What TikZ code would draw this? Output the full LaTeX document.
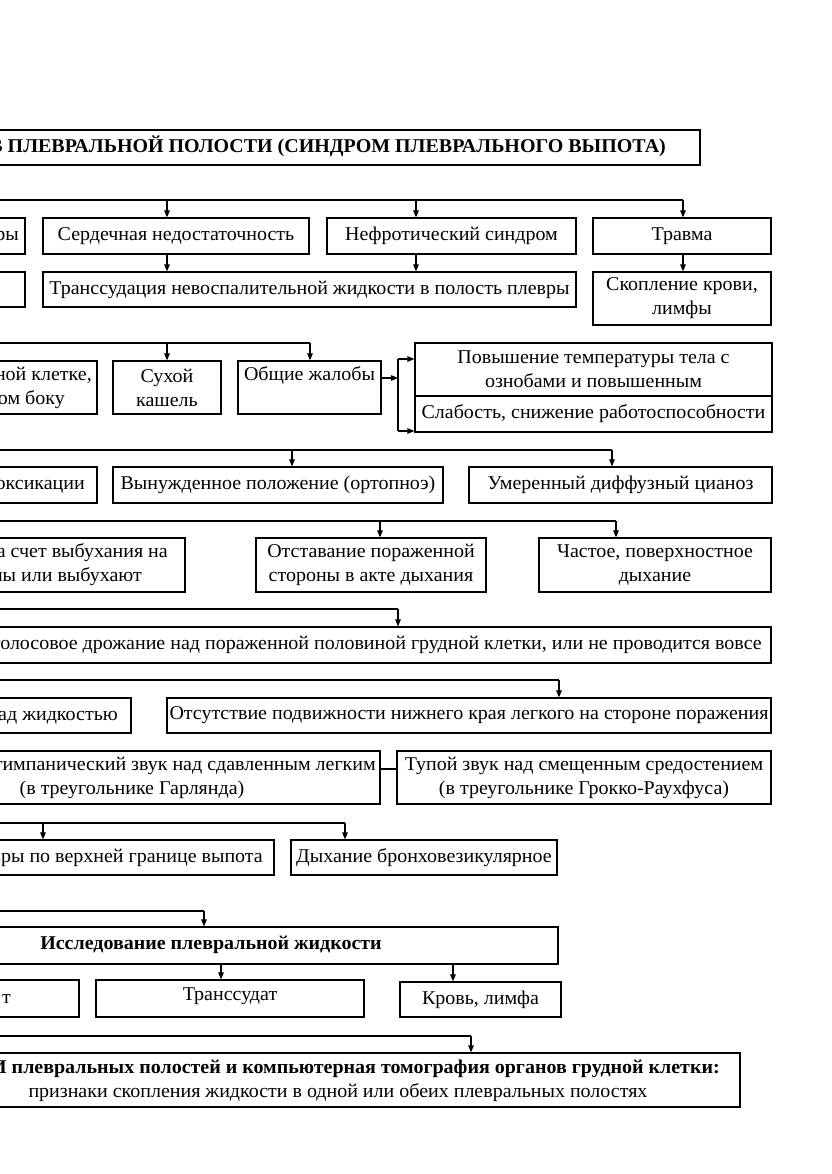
\documentclass[tikz,border=0pt]{standalone}
\usepackage{fontspec}
\setmainfont[FakeStretch=1.025]{Liberation Serif}
\usetikzlibrary{arrows.meta,fit}
\newcommand\fs{\fontsize{19.5}{24}\selectfont}
\tikzset{
  x=1pt, y=-1pt,
  box/.style={draw, line width=1.2pt, inner sep=0pt},
  txt/.style={inner sep=0pt, font=\fs, align=center},
  cut/.style={inner sep=0pt, font=\fs, anchor=base east},
  ln/.style={line width=1.2pt},
  arr/.style={line width=1.2pt, -{Triangle[length=7pt,width=5.5pt]}},
}
\begin{document}
\begin{tikzpicture}
\useasboundingbox (0,0) rectangle (831,1174);
\clip (0,0) rectangle (831,1174);
\fill[white] (0,0) rectangle (831,1174);

% title
\node[box, fit={(-60,130)(700,165)}] (title) {};
\node[cut, font=\fs\bfseries] (titlet) at (666,152.5) {В ПЛЕВРАЛЬНОЙ ПОЛОСТИ (СИНДРОМ ПЛЕВРАЛЬНОГО ВЫПОТА)};

% row 2
\node[box, fit={(-60,218)(25,254)}] (r2a) {};
\node[cut] (r2at) at (19,240.6) {ры};
\node[box, fit={(43,218)(309,254)}] (r2b) {};
\node[txt] (r2bt) at (r2b.center) {Сердечная недостаточность};
\node[box, fit={(327,218)(576,254)}] (r2c) {};
\node[txt] (r2ct) at (r2c.center) {Нефротический синдром};
\node[box, fit={(593,218)(771,254)}] (r2d) {};
\node[txt] (r2dt) at (r2d.center) {Травма};

% row 3
\node[box, fit={(-60,272)(25,307)}] (r3a) {};
\node[box, fit={(43,272)(576,307)}] (r3b) {};
\node[txt] (r3bt) at (r3b.center) {Транссудация невоспалительной жидкости в полость плевры};
\node[box, fit={(593,272)(771,325)}] (r3c) {};
\node[txt] (r3ct) at (r3c.center) {Скопление крови,\\лимфы};

% bus 1
\coordinate (s1) at (-20,200);
\coordinate (j1a) at (167,200);
\coordinate (j1b) at (416,200);
\coordinate (j1c) at (683,200);
\draw[ln] (s1) -- (j1c);
\draw[arr] (j1a) -- (j1a |- r2b.north);
\draw[arr] (j1b) -- (j1b |- r2c.north);
\draw[arr] (j1c) -- (j1c |- r2d.north);
\draw[arr] (j1a |- r2b.south) -- (j1a |- r3b.north);
\draw[arr] (j1b |- r2c.south) -- (j1b |- r3b.north);
\draw[arr] (j1c |- r2d.south) -- (j1c |- r3c.north);

% row 4
\node[box, fit={(-60,361)(97,414)}] (r4a) {};
\node[cut] (r4at1) at (92,380) {ной клетке,};
\node[cut] (r4at2) at (65,404) {ом боку};
\node[box, fit={(113,361)(221,414)}] (r4b) {};
\node[txt] (r4bt) at (r4b.center) {Сухой\\кашель};
\node[box, fit={(238,361)(381,414)}] (r4c) {};
\node[txt, anchor=base] (r4ct) at (309.5,380.5) {Общие жалобы};
\node[box, fit={(415,343)(772,396)}] (r4d) {};
\node[txt] (r4dt) at (r4d.center) {Повышение температуры тела с\\ознобами и повышенным};
\node[box, fit={(415,396)(772,432)}] (r4e) {};
\node[txt] (r4et) at (r4e.center) {Слабость, снижение работоспособности};

\coordinate (s2) at (-20,343);
\coordinate (j2a) at (167,343);
\coordinate (j2b) at (310,343);
\draw[ln] (s2) -- (j2b);
\draw[arr] (j2a) -- (j2a |- r4b.north);
\draw[arr] (j2b) -- (j2b |- r4c.north);

\coordinate (k1) at (398,378);
\coordinate (k2) at (398,359);
\coordinate (k3) at (398,431);
\draw[arr] (r4c.east |- k1) -- (k1);
\draw[ln] (k2) -- (k3);
\draw[arr] (k2) -- (k2 -| r4d.west);
\draw[arr] (k3) -- (k3 -| r4e.west);

% row 5
\node[box, fit={(-60,467)(97,503)}] (r5a) {};
\node[cut] (r5at) at (85,489.6) {оксикации};
\node[box, fit={(113,467)(443,503)}] (r5b) {};
\node[txt] (r5bt) at (r5b.center) {Вынужденное положение (ортопноэ)};
\node[box, fit={(469,467)(772,503)}] (r5c) {};
\node[txt] (r5ct) at (r5c.center) {Умеренный диффузный цианоз};

\coordinate (s3) at (-20,450);
\coordinate (j3a) at (292,450);
\coordinate (j3b) at (612,450);
\draw[ln] (s3) -- (j3b);
\draw[arr] (j3a) -- (j3a |- r5b.north);
\draw[arr] (j3b) -- (j3b |- r5c.north);

% row 6
\node[box, fit={(-60,538)(185,592)}] (r6a) {};
\node[cut] (r6at1) at (168,557.6) {а счет выбухания на};
\node[cut] (r6at2) at (142,581.6) {ны или выбухают};
\node[box, fit={(256,538)(486,592)}] (r6b) {};
\node[txt] (r6bt) at (r6b.center) {Отставание пораженной\\стороны в акте дыхания};
\node[box, fit={(539,538)(771,592)}] (r6c) {};
\node[txt] (r6ct) at (r6c.center) {Частое, поверхностное\\дыхание};

\coordinate (s4) at (-20,521);
\coordinate (j4a) at (380,521);
\coordinate (j4b) at (616,521);
\draw[ln] (s4) -- (j4b);
\draw[arr] (j4a) -- (j4a |- r6b.north);
\draw[arr] (j4b) -- (j4b |- r6c.north);

% row 7
\node[box, fit={(-60,627)(771,663)}] (r7) {};
\node[cut] (r7t) at (762,649.6) {голосовое дрожание над пораженной половиной грудной клетки, или не проводится вовсе};
\coordinate (s5) at (-20,609);
\coordinate (j5a) at (398,609);
\draw[ln] (s5) -- (j5a);
\draw[arr] (j5a) -- (j5a |- r7.north);

% row 8
\node[box, fit={(-60,698)(131,733)}] (r8a) {};
\node[cut] (r8at) at (118,720) {ад жидкостью};
\node[box, fit={(167,698)(771,733)}] (r8b) {};
\node[txt] (r8bt) at (r8b.center) {Отсутствие подвижности нижнего края легкого на стороне поражения};
\coordinate (s6) at (-20,680);
\coordinate (j6a) at (559,680);
\draw[ln] (s6) -- (j6a);
\draw[arr] (j6a) -- (j6a |- r8b.north);

% row 9
\node[box, fit={(-60,751)(380,804)}] (r9a) {};
\node[cut] (r9at1) at (376,770) {тимпанический звук над сдавленным легким};
\node[txt, anchor=base] (r9at2) at (132,794) {(в треугольнике Гарлянда)};
\node[box, fit={(397,751)(771,804)}] (r9b) {};
\node[txt] (r9bt) at (r9b.center) {Тупой звук над смещенным средостением\\(в треугольнике Грокко-Раухфуса)};
\coordinate (k9) at (389,769);
\draw[ln] (r9a.east |- k9) -- (r9b.west |- k9);

% row 10
\node[box, fit={(-60,840)(274,875)}] (r10a) {};
\node[cut] (r10at) at (263,862) {вры по верхней границе выпота};
\node[box, fit={(291,840)(557,875)}] (r10b) {};
\node[txt] (r10bt) at (r10b.center) {Дыхание бронховезикулярное};
\coordinate (s7) at (-20,823);
\coordinate (j7a) at (43,823);
\coordinate (j7b) at (345,823);
\draw[ln] (s7) -- (j7b);
\draw[arr] (j7a) -- (j7a |- r10a.north);
\draw[arr] (j7b) -- (j7b |- r10b.north);

% row 11
\node[box, fit={(-60,927)(558,964)}] (r11) {};
\node[txt, anchor=base, font=\fs\bfseries] (r11t) at (211,949) {Исследование плевральной жидкости};
\coordinate (s8) at (-20,911);
\coordinate (j8a) at (204,911);
\draw[ln] (s8) -- (j8a);
\draw[arr] (j8a) -- (j8a |- r11.north);

% row 12
\node[box, fit={(-60,980)(79,1017)}] (r12a) {};
\node[cut] (r12at) at (11,1003) {т};
\node[box, fit={(96,980)(364,1017)}] (r12b) {};
\node[txt, anchor=base] (r12bt) at (230,1000.5) {Транссудат};
\node[box, fit={(400,982)(561,1017)}] (r12c) {};
\node[txt] (r12ct) at (r12c.center) {Кровь, лимфа};
\coordinate (j9a) at (221,964);
\coordinate (j9b) at (453,964);
\draw[arr] (j9a |- r11.south) -- (j9a |- r12b.north);
\draw[arr] (j9b |- r11.south) -- (j9b |- r12c.north);

% row 13
\node[box, fit={(-60,1053)(740,1107)}] (r13) {};
\node[cut, font=\fs\bfseries] (r13t1) at (720,1073) {И плевральных полостей и компьютерная томография органов грудной клетки:};
\node[txt, anchor=base] (r13t2) at (338,1097) {признаки скопления жидкости в одной или обеих плевральных полостях};
\coordinate (s9) at (-20,1036);
\coordinate (j10a) at (471,1036);
\draw[ln] (s9) -- (j10a);
\draw[arr] (j10a) -- (j10a |- r13.north);
\end{tikzpicture}
\end{document}
